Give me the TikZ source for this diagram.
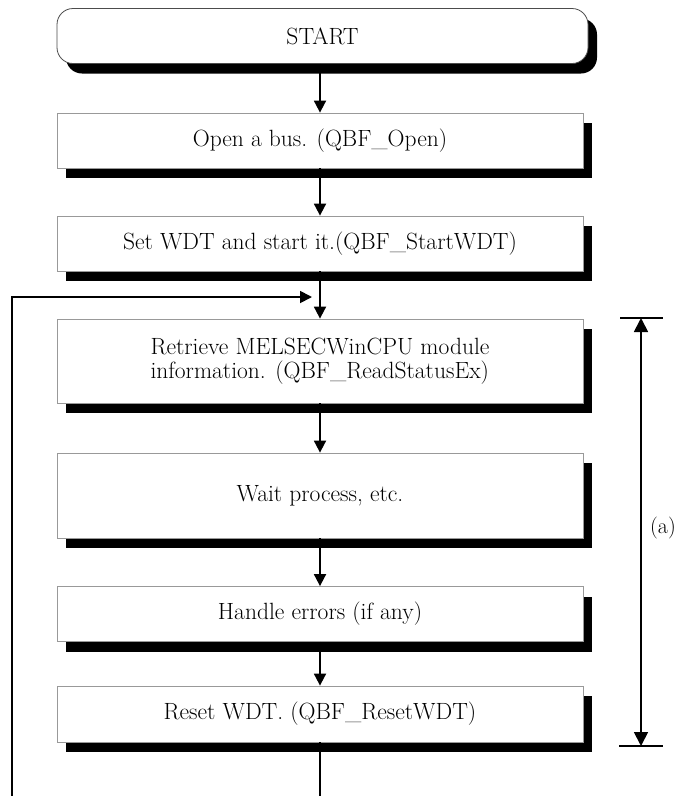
\documentclass[tikz,border=0pt]{standalone}
\usetikzlibrary{shadows,arrows.meta}
\begin{document}
\begin{tikzpicture}[x=1pt,y=-1pt,
  proc/.style={draw=gray!80, line width=0.8pt, fill=white, minimum width=526pt,
    inner sep=0pt, font=\fontsize{23.5}{24}\selectfont,
    drop shadow={shadow xshift=9pt, shadow yshift=-10pt, fill=black, opacity=1}},
  conn/.style={line width=1.8pt, -{Triangle[length=12pt,width=12pt]}},
  plain/.style={line width=1.8pt}]
\useasboundingbox (0,0) rectangle (678,796);
\fill[white] (0,0) rectangle (678,796);
\node[proc, draw=gray!60!black, minimum width=531pt, minimum height=55pt, rounded corners=16pt] (start) at (322.5,36) {START};
\node[proc, minimum height=55pt] (open) at (320,140.5) {Open a bus. (QBF\_Open)};
\node[proc, minimum height=55pt] (wdt) at (320,243.5) {Set WDT and start it.(QBF\_StartWDT)};
\node[proc, minimum height=84pt, align=left] (read) at (320,361) {Retrieve MELSECWinCPU module\\information. (QBF\_ReadStatusEx)};
\node[proc, minimum height=85pt] (wait) at (320,495.5) {Wait process, etc.};
\node[proc, minimum height=55pt] (err) at (320,614) {Handle errors (if any)};
\node[proc, minimum height=56pt] (reset) at (320,714) {Reset WDT. (QBF\_ResetWDT)};
\coordinate (bot) at (320,797);
\coordinate (lb) at (12,797);
\coordinate (lt) at (12,297);
\coordinate (mt) at (312,297);
\draw[conn] (start.south -| open.north) -- (open.north);
\draw[conn] (open) -- (wdt);
\draw[conn] (wdt) -- (read);
\draw[conn] (read) -- (wait);
\draw[conn] (wait) -- (err);
\draw[conn] (err) -- (reset);
\draw[plain] (reset.south) -- (bot);
\draw[conn] (lb) -- (lt) -- (mt);
% bracket (a)
\coordinate (bt1) at (620,318);
\coordinate (bt2) at (663,318);
\coordinate (bb1) at (619,746);
\coordinate (bb2) at (663,746);
\coordinate (bt) at (641,318);
\coordinate (bb) at (641,746);
\draw[plain] (bt1) -- (bt2);
\draw[plain] (bb1) -- (bb2);
\draw[line width=1.8pt, {Triangle[length=14pt,width=14pt]}-{Triangle[length=14pt,width=14pt]}] (bt) -- (bb);
\node[font=\fontsize{22}{22}\selectfont, inner sep=0pt, anchor=west] (alabel) at (650,528) {(a)};
\end{tikzpicture}
\end{document}
